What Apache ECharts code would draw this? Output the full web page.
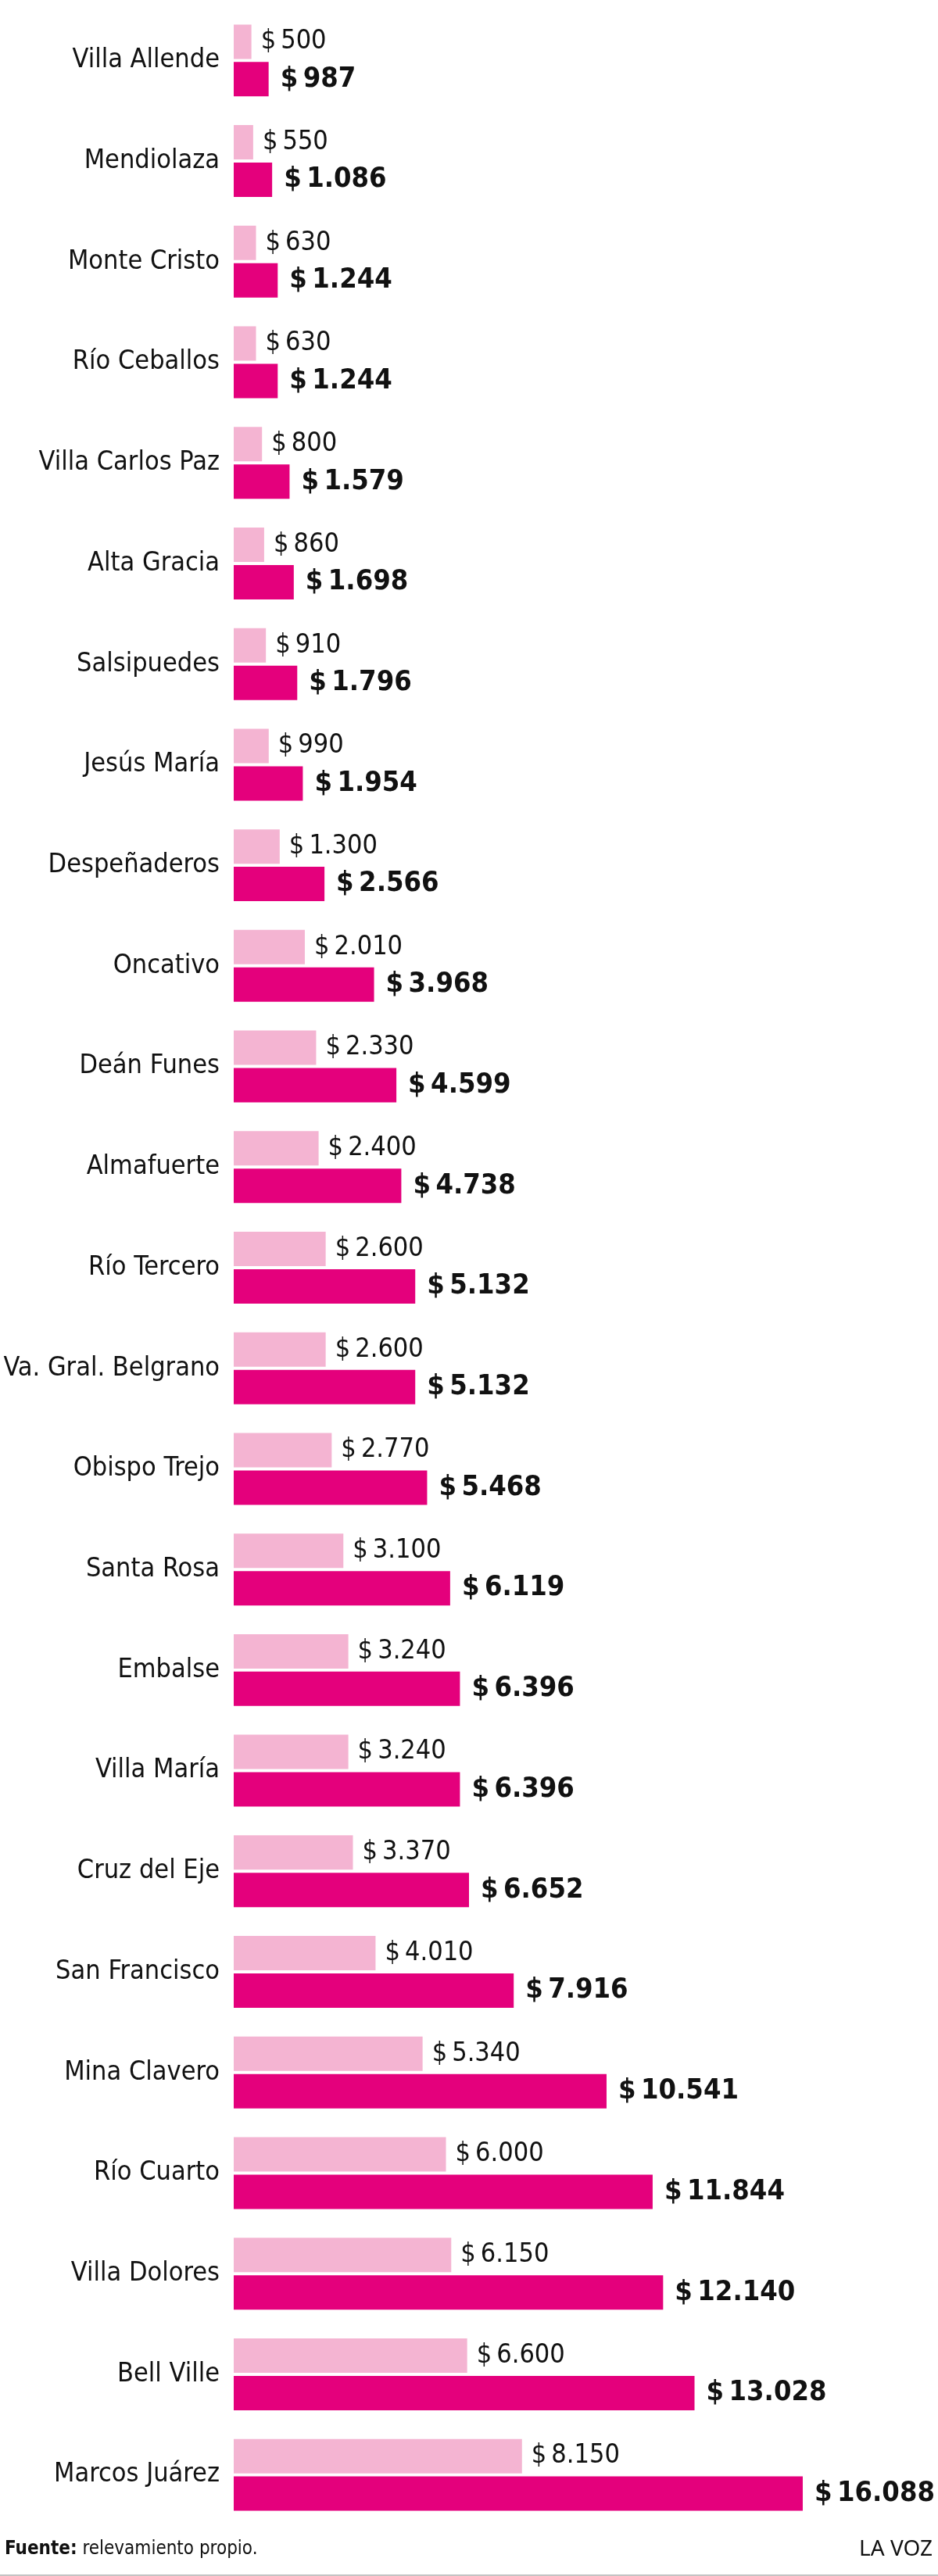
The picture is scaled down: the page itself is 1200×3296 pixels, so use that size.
<!DOCTYPE html>
<html>
<head>
<meta charset="utf-8">
<script src="https://cdn.jsdelivr.net/npm/echarts@6/dist/echarts.min.js"></script>
<style>
  html, body { margin: 0; padding: 0; background: #fff; }
  #chart { width: 1200px; height: 3296px; }
</style>
</head>
<body>
<div id="chart"></div>
<script>
const cities = [
  'Villa Allende', 'Mendiolaza', 'Monte Cristo', 'Río Ceballos', 'Villa Carlos Paz',
  'Alta Gracia', 'Salsipuedes', 'Jesús María', 'Despeñaderos', 'Oncativo',
  'Deán Funes', 'Almafuerte', 'Río Tercero', 'Va. Gral. Belgrano', 'Obispo Trejo',
  'Santa Rosa', 'Embalse', 'Villa María', 'Cruz del Eje', 'San Francisco',
  'Mina Clavero', 'Río Cuarto', 'Villa Dolores', 'Bell Ville', 'Marcos Juárez'
]
const before = [500, 550, 630, 630, 800, 860, 910, 990, 1300, 2010, 2330, 2400, 2600, 2600, 2770,
  3100, 3240, 3240, 3370, 4010, 5340, 6000, 6150, 6600, 8150]
const now = [987, 1086, 1244, 1244, 1579, 1698, 1796, 1954, 2566, 3968, 4599, 4738, 5132, 5132, 5468,
  6119, 6396, 6396, 6652, 7916, 10541, 11844, 12140, 13028, 16088]

const FONT = '"DejaVu Sans Condensed", "Liberation Sans Narrow", sans-serif'

// $ 1.086 style, dot as thousands separator, thin space after the sign
function money(v) {
  return '$\u2009' + String(v).replace(/\B(?=(\d{3})+(?!\d))/g, '.')
}

const chart = echarts.init(document.getElementById('chart'))

chart.setOption({
  animation: false,
  backgroundColor: '#fff',
  title: [
    {
      text: '{b|Fuente:} relevamiento propio.',
      left: 6, top: 3250, padding: 0,
      textStyle: {
        fontFamily: FONT, fontSize: 24, fontWeight: 'normal', color: '#111',
        rich: { b: { fontFamily: FONT, fontSize: 24, fontWeight: 'bold', color: '#111' } }
      }
    },
    {
      text: 'LA VOZ',
      right: 7, top: 3248, padding: 0,
      textStyle: { fontFamily: '"Noto Sans", sans-serif', fontSize: 28, fontWeight: 'normal', color: '#111' }
    }
  ],
  graphic: [
    { type: 'rect', left: 0, bottom: 0, shape: { width: 1200, height: 2 }, style: { fill: '#c4c4c4' } }
  ],
  grid: { left: 299, right: 86.5, top: 13, bottom: 65, containLabel: false, outerBoundsMode: 'none' },
  xAxis: {
    type: 'value', min: 0, max: 18000,
    show: false
  },
  yAxis: {
    type: 'category', data: cities, inverse: true,
    axisLine: { show: false }, axisTick: { show: false }, splitLine: { show: false },
    axisLabel: { fontFamily: FONT, fontSize: 34, color: '#111', margin: 18 }
  },
  series: [
    {
      name: 'antes', type: 'bar', data: before,
      barWidth: 44, barGap: '9%',
      itemStyle: { color: '#f4b4d2' },
      label: {
        show: true, position: 'right', distance: 12,
        fontFamily: FONT, fontSize: 34, color: '#111',
        formatter: p => money(p.value)
      }
    },
    {
      name: 'ahora', type: 'bar', data: now,
      barWidth: 44,
      itemStyle: { color: '#e4007c' },
      label: {
        show: true, position: 'right', distance: 15,
        fontFamily: FONT, fontSize: 36, fontWeight: 'bold', color: '#111',
        formatter: p => money(p.value)
      }
    }
  ]
})

window.addEventListener('resize', () => chart.resize())
</script>
</body>
</html>
